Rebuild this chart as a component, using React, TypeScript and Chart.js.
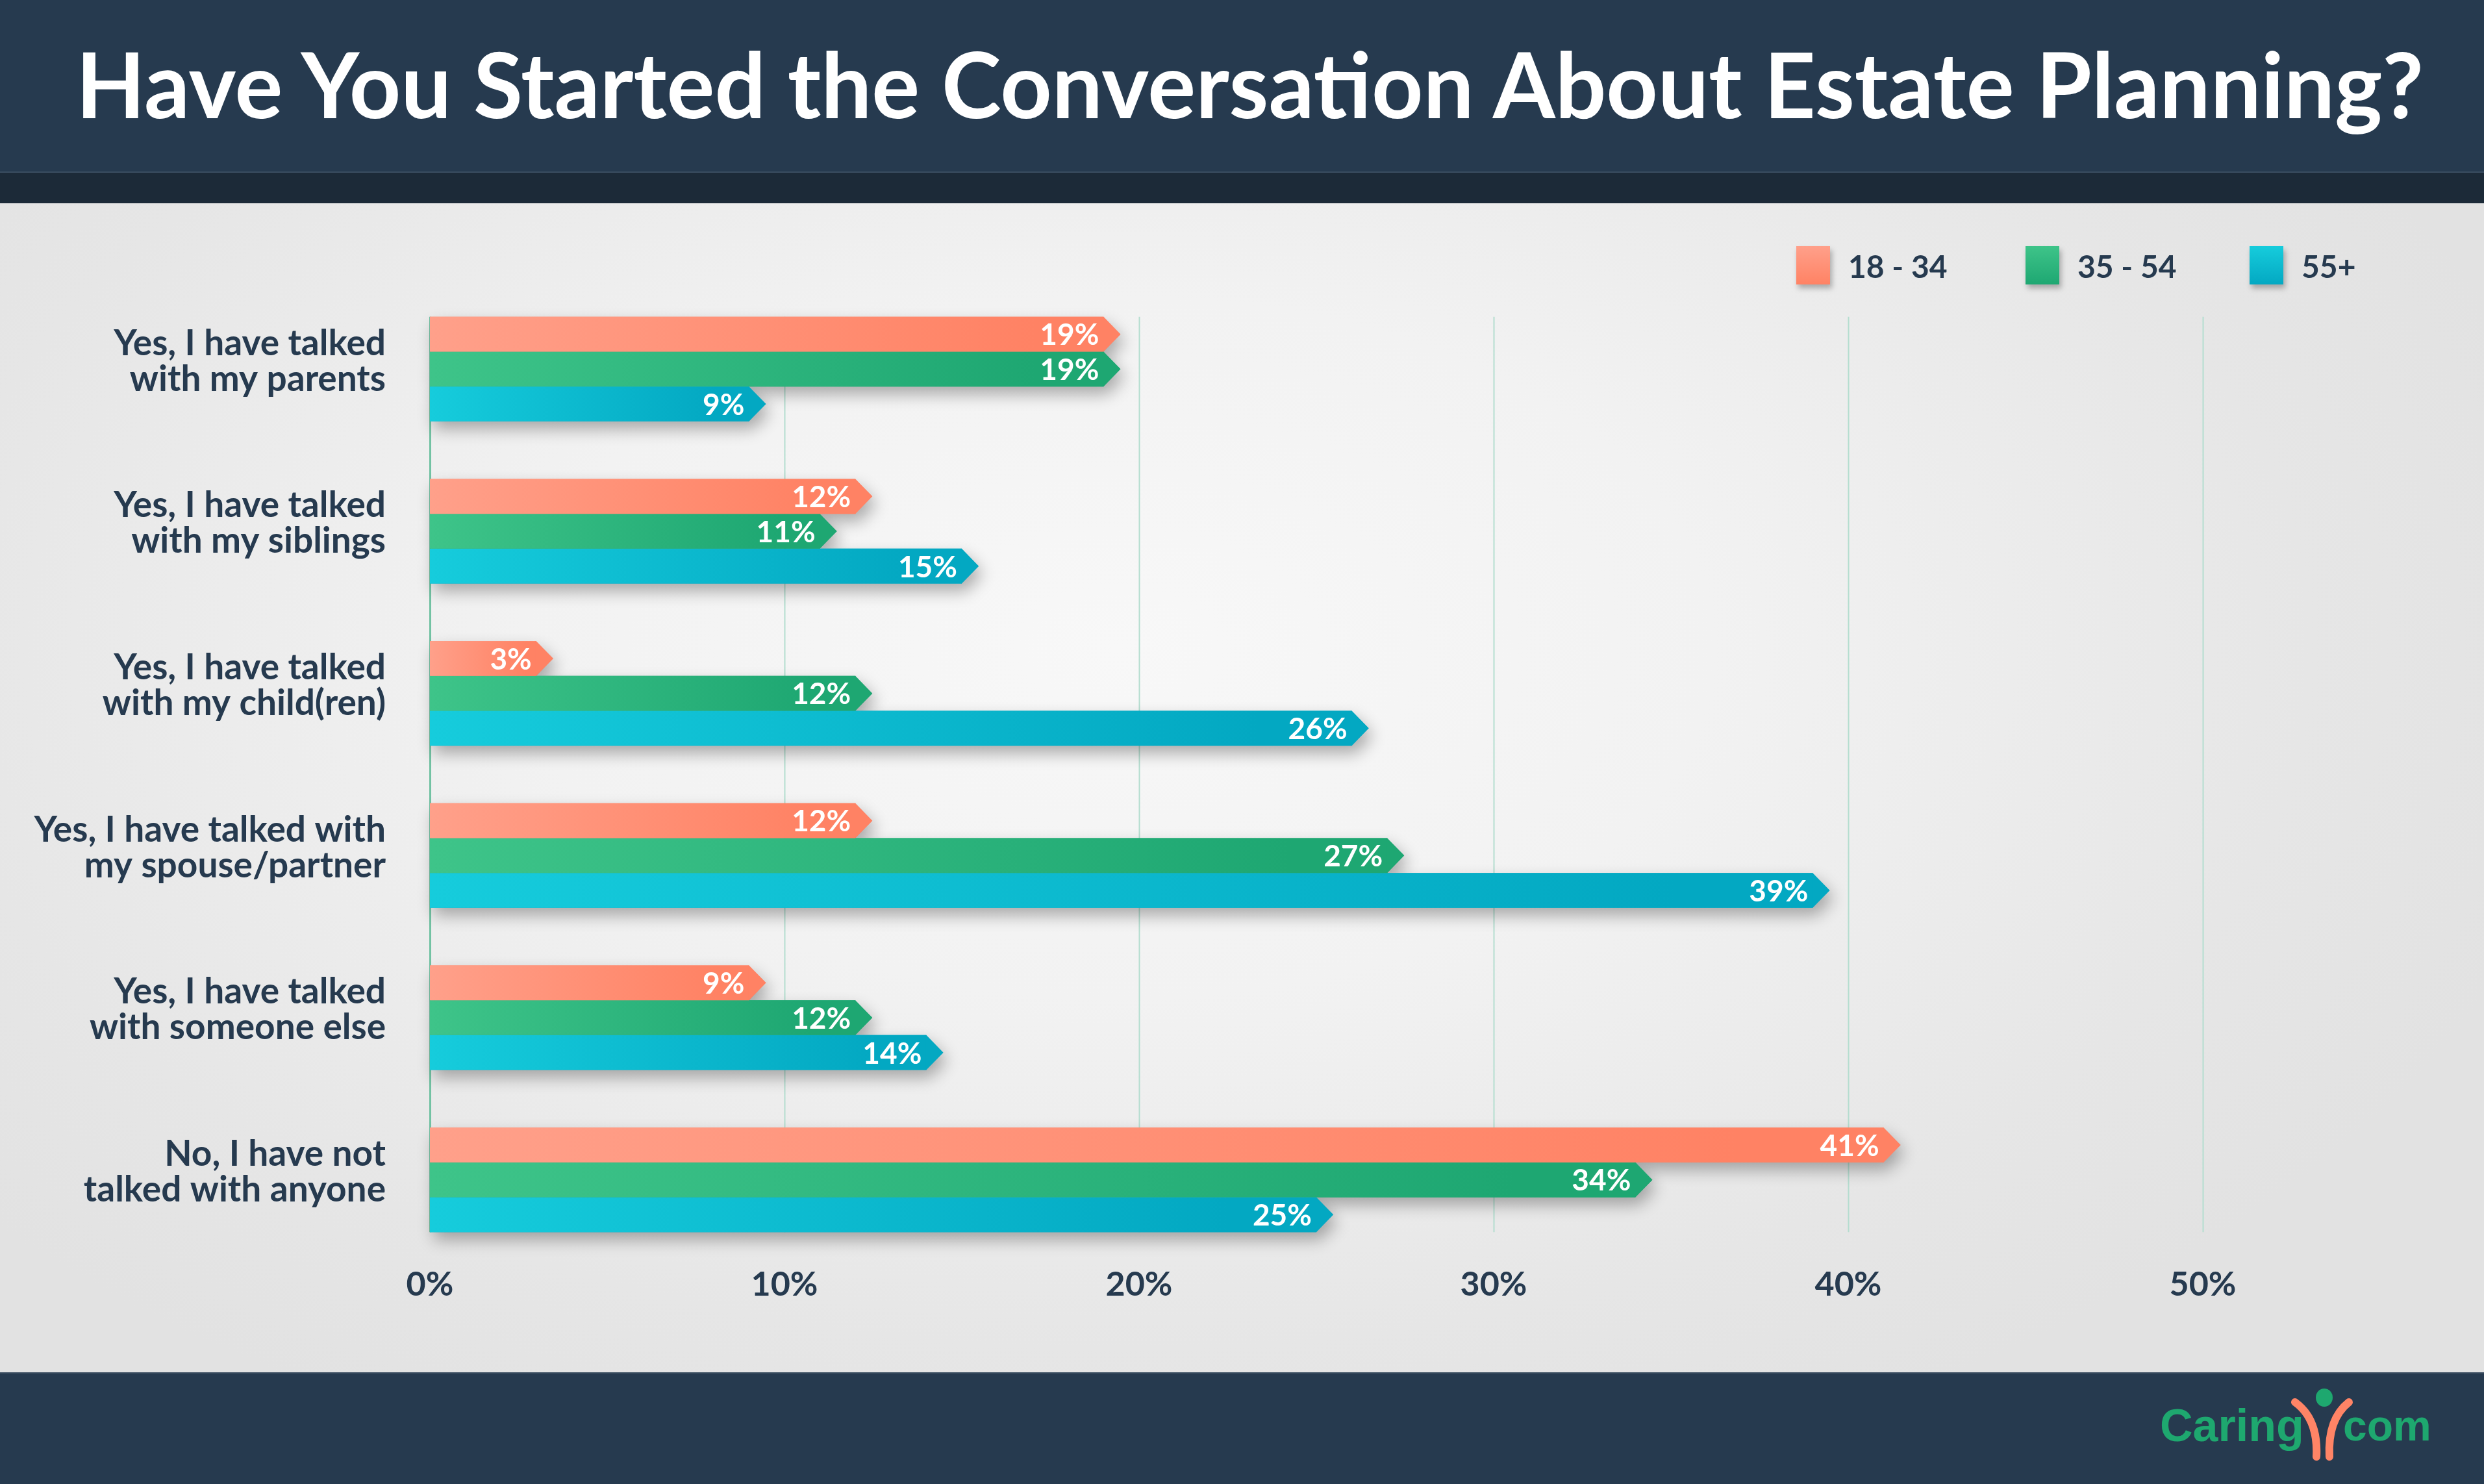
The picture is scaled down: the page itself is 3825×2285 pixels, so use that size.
import React, { useEffect, useRef } from "react";
import { Chart, registerables } from "chart.js";

Chart.register(...registerables);

// ---------- DATA ----------
const categories: string[][] = [
  ["Yes, I have talked", "with my parents"],
  ["Yes, I have talked", "with my siblings"],
  ["Yes, I have talked", "with my child(ren)"],
  ["Yes, I have talked with", "my spouse/partner"],
  ["Yes, I have talked", "with someone else"],
  ["No, I have not", "talked with anyone"],
];
const seriesNames = ["18 - 34", "35 - 54", "55+"];
const values18to34 = [19, 12, 3, 12, 9, 41];
const values35to54 = [19, 11, 12, 27, 12, 34];
const values55plus = [9, 15, 26, 39, 14, 25];
const xTickMax = 50;
const xTickStep = 10;
const titleText = "Have You Started the Conversation About Estate Planning?";

// ---------- STYLE ----------
const colorsLight = ["#ffa08a", "#3ec489", "#16ccdc"];
const colorsDark = ["#ff8264", "#1ea772", "#03a8c2"];
const NAVY = "#263a4f";
const W = 3825;
const H = 2285;
const CANVAS_TOP = 313;
const CANVAS_H = 2113 - 313;

const seriesValues = [values18to34, values35to54, values55plus];

function barShape(ctx: CanvasRenderingContext2D, el: any) {
  const { x, y, base, height } = el.getProps(["x", "y", "base", "height"], true);
  const h2 = height / 2;
  ctx.beginPath();
  ctx.moveTo(base, y - h2);
  ctx.lineTo(x, y - h2);
  ctx.lineTo(x + 26, y);
  ctx.lineTo(x, y + h2);
  ctx.lineTo(base, y + h2);
  ctx.closePath();
}

const decorPlugin = {
  id: "decor",
  beforeDatasetsDraw(chart: any) {
    const ctx: CanvasRenderingContext2D = chart.ctx;
    const xs = chart.scales.x;
    const n = chart.data.datasets.length;
    const m0 = chart.getDatasetMeta(0);
    const mL = chart.getDatasetMeta(n - 1);
    const first = m0.data[0];
    const last = mL.data[mL.data.length - 1];
    const top = first.y - first.height / 2;
    const bottom = last.y + last.height / 2;
    ctx.save();
    xs.ticks.forEach((t: any) => {
      const x = Math.round(xs.getPixelForValue(t.value)) + 0.5;
      ctx.strokeStyle = t.value === 0 ? "#72c2a3" : "#b4ddcf";
      ctx.lineWidth = t.value === 0 ? 3 : 2;
      ctx.beginPath();
      ctx.moveTo(x, top);
      ctx.lineTo(x, bottom);
      ctx.stroke();
    });
    ctx.restore();

    // shadow pass
    ctx.save();
    ctx.shadowColor = "rgba(0,0,0,0.30)";
    ctx.shadowBlur = 24;
    ctx.shadowOffsetX = 6;
    ctx.shadowOffsetY = 12;
    for (let i = 0; i < n; i++) {
      const meta = chart.getDatasetMeta(i);
      ctx.fillStyle = colorsDark[i];
      meta.data.forEach((el: any) => {
        barShape(ctx, el);
        ctx.fill();
      });
    }
    ctx.restore();
  },
  afterDatasetsDraw(chart: any) {
    const ctx: CanvasRenderingContext2D = chart.ctx;
    const n = chart.data.datasets.length;
    ctx.save();
    for (let i = 0; i < n; i++) {
      const meta = chart.getDatasetMeta(i);
      ctx.fillStyle = colorsDark[i];
      meta.data.forEach((el: any) => {
        const { x, y, height } = el.getProps(["x", "y", "height"], true);
        ctx.beginPath();
        ctx.moveTo(x - 1, y - height / 2);
        ctx.lineTo(x + 26, y);
        ctx.lineTo(x - 1, y + height / 2);
        ctx.closePath();
        ctx.fill();
      });
    }
    ctx.font = "bold 46px Lato";
    ctx.fillStyle = "#ffffff";
    ctx.textAlign = "right";
    ctx.textBaseline = "middle";
    for (let i = 0; i < n; i++) {
      const meta = chart.getDatasetMeta(i);
      const ds = chart.data.datasets[i];
      meta.data.forEach((el: any, j: number) => {
        const { x, y } = el.getProps(["x", "y"], true);
        ctx.fillText(`${ds.data[j]}%`, x - 7, y + 2);
      });
    }
    ctx.restore();
  },
  afterDraw(chart: any) {
    // legend
    const ctx: CanvasRenderingContext2D = chart.ctx;
    const xs = [2766, 3119, 3464];
    const top = 66;
    const bw = 52;
    const bh = 59;
    chart.data.datasets.forEach((ds: any, i: number) => {
      ctx.save();
      ctx.shadowColor = "rgba(0,0,0,0.28)";
      ctx.shadowBlur = 8;
      ctx.shadowOffsetX = 3;
      ctx.shadowOffsetY = 6;
      const g = ctx.createLinearGradient(0, top, 0, top + bh);
      g.addColorStop(0, colorsLight[i]);
      g.addColorStop(1, colorsDark[i]);
      ctx.fillStyle = g;
      ctx.fillRect(xs[i], top, bw, bh);
      ctx.restore();
      ctx.save();
      ctx.font = "bold 48px Lato";
      ctx.fillStyle = NAVY;
      ctx.textAlign = "left";
      ctx.textBaseline = "alphabetic";
      ctx.fillText(ds.label, xs[i] + 80, 115);
      ctx.restore();
    });
  },
};

function makeGradient(i: number) {
  return (c: any) => {
    const chart = c.chart;
    const xs = chart.scales ? chart.scales.x : null;
    if (!chart.chartArea || !xs || c.raw == null) return colorsDark[i];
    const x0 = xs.getPixelForValue(0);
    const x1 = Math.max(xs.getPixelForValue(c.raw), x0 + 1);
    const g = chart.ctx.createLinearGradient(x0, 0, x1, 0);
    g.addColorStop(0, colorsLight[i]);
    g.addColorStop(0.9, colorsDark[i]);
    g.addColorStop(1, colorsDark[i]);
    return g;
  };
}

function Logo() {
  return (
    <div style={{ position: "absolute", left: 0, top: 0, width: W, height: H, pointerEvents: "none" }}>
      <div
        style={{
          position: "absolute",
          left: 3326,
          top: 2160,
          fontFamily: "'Liberation Sans', Arial, sans-serif",
          fontWeight: 700,
          fontSize: 70,
          lineHeight: "70px",
          color: "#1ea86f",
          whiteSpace: "nowrap",
        }}
      >
        Caring
      </div>
      <div
        style={{
          position: "absolute",
          left: 3608,
          top: 2160,
          fontFamily: "'Liberation Sans', Arial, sans-serif",
          fontWeight: 700,
          fontSize: 66,
          lineHeight: "70px",
          color: "#1ea86f",
          whiteSpace: "nowrap",
        }}
      >
        com
      </div>
      <svg
        style={{ position: "absolute", left: 3520, top: 2130 }}
        width={110}
        height={125}
        viewBox="0 0 110 125"
      >
        <ellipse cx={59} cy={22} rx={13} ry={14} fill="#1ea86f" />
        <path d="M14 29 Q 50 55 47 113" stroke="#ff8466" strokeWidth={12} fill="none" strokeLinecap="round" />
        <path d="M97 29 Q 64 55 67 113" stroke="#ff8466" strokeWidth={12} fill="none" strokeLinecap="round" />
      </svg>
    </div>
  );
}

export default function App() {
  const canvasRef = useRef<HTMLCanvasElement | null>(null);
  const titleRef = useRef<HTMLSpanElement | null>(null);

  useEffect(() => {
    const t = titleRef.current;
    if (t) {
      const w = t.getBoundingClientRect().width;
      if (w > 0) {
        t.style.transform = `scaleX(${3615 / w})`;
      }
    }
    const canvas = canvasRef.current;
    if (!canvas) return;
    Chart.defaults.font.family = "Lato";
    const chart = new Chart(canvas, {
      type: "bar",
      data: {
        labels: categories,
        datasets: seriesValues.map((vals, i) => ({
          label: seriesNames[i],
          data: vals,
          backgroundColor: makeGradient(i),
          borderWidth: 0,
          barPercentage: 1.0,
          categoryPercentage: 0.645,
        })),
      },
      options: {
        animation: false,
        responsive: false,
        maintainAspectRatio: false,
        indexAxis: "y",
        layout: { padding: { left: 0, right: 433, top: 130.5, bottom: 51.5 } },
        plugins: {
          legend: { display: false },
          tooltip: { enabled: false },
          title: { display: false },
        },
        scales: {
          x: {
            type: "linear",
            min: 0,
            max: xTickMax,
            grid: { display: false },
            border: { display: false },
            ticks: {
              stepSize: xTickStep,
              callback: (v: any) => `${v}%`,
              color: NAVY,
              font: { family: "Lato", weight: "bold", size: 52 },
              padding: -2,
            },
            afterFit: (s: any) => {
              s.height = 120;
            },
          },
          y: {
            type: "category",
            grid: { display: false },
            border: { display: false },
            ticks: {
              color: NAVY,
              font: { family: "Lato", weight: "bold", size: 55, lineHeight: 1.0 },
              padding: 60,
              labelOffset: -12,
              autoSkip: false,
            },
            afterFit: (s: any) => {
              s.width = 662;
            },
          },
        },
      } as any,
      plugins: [decorPlugin],
    });
    return () => chart.destroy();
  }, []);

  return (
    <div style={{ position: "absolute", left: 0, top: 0, width: W, height: H, overflow: "hidden" }}>
      <div style={{ position: "absolute", left: 0, top: 0, width: W, height: 264, background: NAVY, borderBottom: "2px solid #3a4d60" }} />
      <div style={{ position: "absolute", left: 0, top: 266, width: W, height: 47, background: "#1c2a38" }} />
      <div
        style={{
          position: "absolute",
          left: 0,
          top: 313,
          width: W,
          height: 1800,
          background: "radial-gradient(ellipse 60% 75% at 45% 38%, #f8f8f8 0%, #f2f2f2 40%, #e6e6e6 80%, #e2e2e2 100%)",
        }}
      />
      <div style={{ position: "absolute", left: 0, top: 2113, width: W, height: 172, background: NAVY, borderTop: "2px solid #3a4d60", boxSizing: "border-box" }} />
      <div
        style={{
          position: "absolute",
          left: 117,
          top: 58,
          whiteSpace: "nowrap",
          fontFamily: "Lato, sans-serif",
          fontWeight: 700,
          fontSize: 140,
          lineHeight: "140px",
          color: "#ffffff",
        }}
      >
        <span ref={titleRef} style={{ display: "inline-block", transformOrigin: "0 0" }}>
          {titleText}
        </span>
      </div>
      <canvas
        ref={canvasRef}
        width={W}
        height={CANVAS_H}
        style={{ position: "absolute", left: 0, top: CANVAS_TOP, width: W, height: CANVAS_H }}
      />
      <Logo />
    </div>
  );
}
